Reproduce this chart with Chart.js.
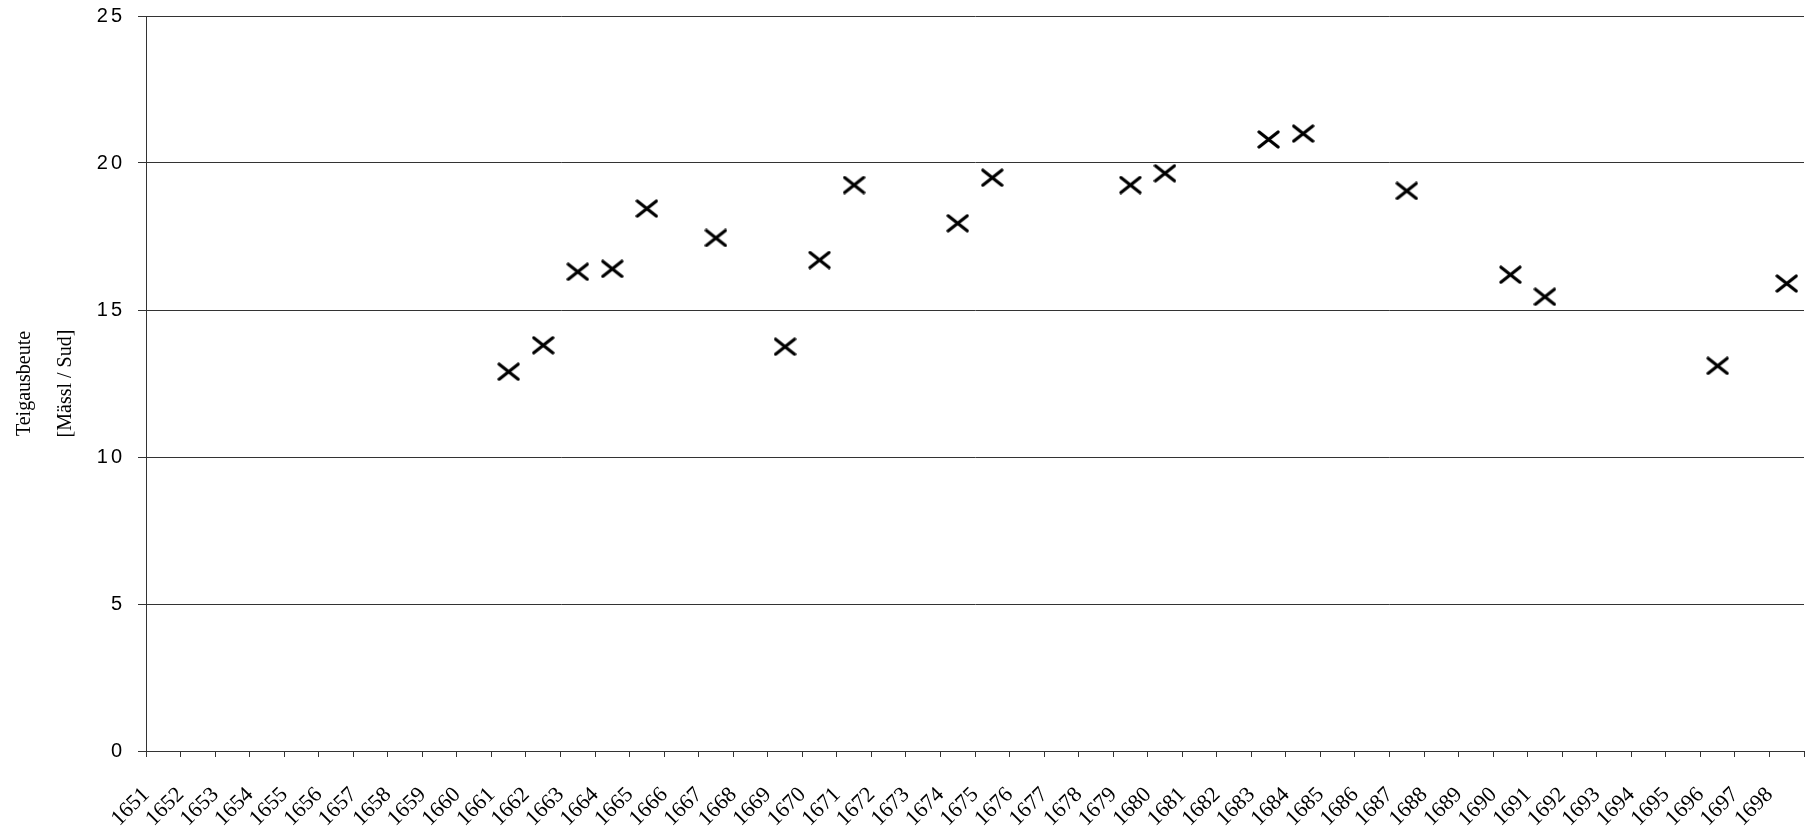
<!DOCTYPE html>
<html>
<head>
<meta charset="utf-8">
<script src="https://cdn.jsdelivr.net/npm/chart.js@4/dist/chart.umd.min.js"></script>
<style>
  html, body { margin: 0; padding: 0; background: #fff; overflow: hidden; }
  #wrap { width: 1805px; height: 827px; position: relative; }
  #myChart { display: block; }
</style>
</head>
<body>
<div id="wrap"><canvas id="myChart"></canvas></div>
<script>
const years = ["1651", "1652", "1653", "1654", "1655", "1656", "1657", "1658", "1659", "1660",
  "1661", "1662", "1663", "1664", "1665", "1666", "1667", "1668", "1669", "1670",
  "1671", "1672", "1673", "1674", "1675", "1676", "1677", "1678", "1679", "1680",
  "1681", "1682", "1683", "1684", "1685", "1686", "1687", "1688", "1689", "1690",
  "1691", "1692", "1693", "1694", "1695", "1696", "1697", "1698"];

// years that have a value, and the value (Mässl / Sud)
const sample_years = ["1661", "1662", "1663", "1664", "1665", "1667", "1669", "1670", "1671",
  "1674", "1675", "1679", "1680", "1683", "1684", "1687", "1690", "1691", "1696", "1698"];
const teig_values = [12.9, 13.8, 16.3, 16.4, 18.45, 17.45, 13.75, 16.7, 19.25,
  17.95, 19.5, 19.25, 19.65, 20.8, 21.0, 19.05, 16.2, 15.45, 13.1, 15.9];

const y_ticks = [0, 5, 10, 15, 20, 25];
const y_title = ["Teigausbeute", "[Mässl / Sud]"];

let points = [];
for (let i = 0; i < sample_years.length; i++) {
  points.push({ x: sample_years[i], y: teig_values[i] });
}

// x-shaped marker, a bit wider than tall
const mark = document.createElement("canvas");
mark.width = 23;
mark.height = 19;
const mctx = mark.getContext("2d");
mctx.strokeStyle = "#000";
mctx.lineWidth = 3.2;
mctx.lineCap = "round";
mctx.beginPath();
mctx.moveTo(2, 2);
mctx.lineTo(21, 17);
mctx.moveTo(21, 2);
mctx.lineTo(2, 17);
mctx.stroke();

// spaced-out y tick numbers like the original
const spacedYLabels = {
  id: "spacedYLabels",
  beforeDraw(chart) {
    const s = chart.scales.y;
    if (s._spaced) return;
    const orig = s.drawLabels;
    s.drawLabels = function (area) {
      chart.ctx.save();
      chart.ctx.letterSpacing = "3px";
      orig.call(this, area);
      chart.ctx.restore();
    };
    s._spaced = true;
  },
};

const lineColor = "#333";
const ctx = document.getElementById("myChart").getContext("2d");

var myChart = new Chart(ctx, {
  type: "line",
  data: {
    labels: years,
    datasets: [{
      data: points,
      showLine: false,
      pointStyle: mark,
      pointRadius: 10,
      borderColor: "#000",
      backgroundColor: "#000",
      clip: false,
    }],
  },
  options: {
    responsive: true,
    maintainAspectRatio: false,
    animation: false,
    layout: { autoPadding: false, padding: { top: 16, right: 1, left: 0, bottom: 0 } },
    plugins: {
      legend: { display: false },
      tooltip: { enabled: false },
    },
    scales: {
      x: {
        type: "category",
        offset: true,
        grid: {
          offset: true,
          drawOnChartArea: false,
          drawTicks: true,
          tickLength: 6,
          color: lineColor,
        },
        border: { color: lineColor, width: 1 },
        ticks: {
          autoSkip: false,
          minRotation: 45,
          maxRotation: 45,
          labelOffset: -17,
          padding: 25,
          color: "#000",
          font: { family: "'Liberation Serif', serif", size: 22 },
        },
        afterFit: function (scale) {
          scale.height = 76;
          scale.paddingLeft = 0;
          scale.paddingRight = 0;
        },
      },
      y: {
        min: 0,
        max: 25,
        afterBuildTicks: function (scale) {
          scale.ticks = y_ticks.map(function (v) { return { value: v }; });
        },
        grid: {
          color: lineColor,
          drawTicks: true,
          tickLength: 8,
        },
        border: { color: lineColor, width: 1 },
        ticks: {
          padding: 13,
          color: "#000",
          font: { family: "'Liberation Sans', Arial, sans-serif", size: 20 },
        },
        title: {
          display: true,
          text: y_title,
          color: "#000",
          padding: { top: 4, bottom: 0 },
          font: { family: "'Liberation Serif', serif", size: 20, lineHeight: 2.05 },
        },
        afterFit: function (scale) {
          scale.width = 146;
          scale.paddingTop = 0;
          scale.paddingBottom = 0;
        },
      },
    },
  },
  plugins: [spacedYLabels],
});
</script>
</body>
</html>
